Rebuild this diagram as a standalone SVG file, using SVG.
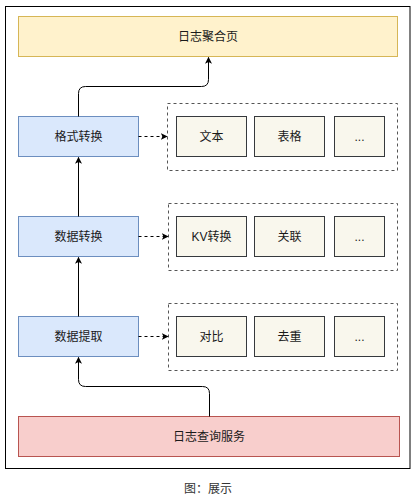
<svg xmlns="http://www.w3.org/2000/svg" width="416" height="502" viewBox="0 0 416 502">
<style>
text{font-family:"Liberation Sans","Noto Sans CJK SC",sans-serif;font-size:12px;fill:#1a1a1a;text-anchor:middle;dominant-baseline:central}
.blue{fill:#dae8fc;stroke:#6c8ebf;stroke-width:1}
.item{fill:#f9f7ed;stroke:#36393d;stroke-width:1}
.grp{fill:none;stroke:#555;stroke-width:1;stroke-dasharray:3 3}
.edge{fill:none;stroke:#000;stroke-width:1}
.dash{fill:none;stroke:#000;stroke-width:1;stroke-dasharray:3 3}
</style>
<defs>
<marker id="arr" viewBox="0 0 10 10" refX="9" refY="5" markerWidth="7" markerHeight="7" orient="auto" markerUnits="userSpaceOnUse">
<path d="M0,0 L10,5 L0,10 L2.5,5 Z" fill="#000"/>
</marker>
</defs>
<rect x="0" y="0" width="416" height="502" fill="#fff"/>
<rect x="5.5" y="6.5" width="404.5" height="462" fill="#fff" stroke="#000" stroke-width="1"/>
<g id="top">
<rect x="18.5" y="16.5" width="379" height="40" fill="#fff2cc" stroke="#d6b656"/>
<text x="208" y="36.5">日志聚合页</text>
</g>
<g id="fmt">
<rect class="blue" x="18.5" y="116.5" width="120" height="40"/>
<text x="78.5" y="136.5">格式转换</text>
</g>
<g id="conv">
<rect class="blue" x="18.5" y="216.5" width="120" height="40"/>
<text x="78.5" y="236.5">数据转换</text>
</g>
<g id="extract">
<rect class="blue" x="18.5" y="316.5" width="120" height="40"/>
<text x="78.5" y="336.5">数据提取</text>
</g>
<g id="svc">
<rect x="18.5" y="416.5" width="381" height="40" fill="#f8cecc" stroke="#b85450"/>
<text x="209" y="436.5">日志查询服务</text>
</g>
<g id="grp1">
<rect class="grp" x="167.5" y="103.5" width="230" height="67"/>
</g>
<g id="grp2">
<rect class="grp" x="168.5" y="203.5" width="229" height="67"/>
</g>
<g id="grp3">
<rect class="grp" x="168.5" y="303.5" width="229" height="67"/>
</g>
<g id="text1"><rect class="item" x="176.5" y="116.5" width="70" height="40"/><text x="211.5" y="136.5">文本</text></g>
<g id="table1"><rect class="item" x="254.5" y="116.5" width="70" height="40"/><text x="289.5" y="136.5">表格</text></g>
<g id="more1"><rect class="item" x="334.5" y="116.5" width="50" height="40"/><text x="359.5" y="136.5">...</text></g>
<g id="kv"><rect class="item" x="176.5" y="216.5" width="70" height="40"/><text x="211.5" y="236.5">KV转换</text></g>
<g id="rel"><rect class="item" x="254.5" y="216.5" width="70" height="40"/><text x="289.5" y="236.5">关联</text></g>
<g id="more2"><rect class="item" x="334.5" y="216.5" width="50" height="40"/><text x="359.5" y="236.5">...</text></g>
<g id="cmp"><rect class="item" x="176.5" y="316.5" width="70" height="40"/><text x="211.5" y="336.5">对比</text></g>
<g id="dedup"><rect class="item" x="254.5" y="316.5" width="70" height="40"/><text x="289.5" y="336.5">去重</text></g>
<g id="more3"><rect class="item" x="334.5" y="316.5" width="50" height="40"/><text x="359.5" y="336.5">...</text></g>
<g id="connectors">
<path class="edge" d="M78.5,116.5 V93.5 Q78.5,86.5 85.5,86.5 H201.5 Q208.5,86.5 208.5,79.5 V57.5" marker-end="url(#arr)"/>
<path class="edge" d="M78.5,216.5 V157.5" marker-end="url(#arr)"/>
<path class="edge" d="M78.5,316.5 V257.5" marker-end="url(#arr)"/>
<path class="edge" d="M209.5,416.5 V393.5 Q209.5,386.5 202.5,386.5 H85.5 Q78.5,386.5 78.5,379.5 V357.5" marker-end="url(#arr)"/>
<path class="dash" d="M138.5,136.5 H167" marker-end="url(#arr)"/>
<path class="dash" d="M138.5,236.5 H168" marker-end="url(#arr)"/>
<path class="dash" d="M138.5,336.5 H168" marker-end="url(#arr)"/>
</g>
<text x="208" y="489" style="fill:#333">图：展示</text>
</svg>
